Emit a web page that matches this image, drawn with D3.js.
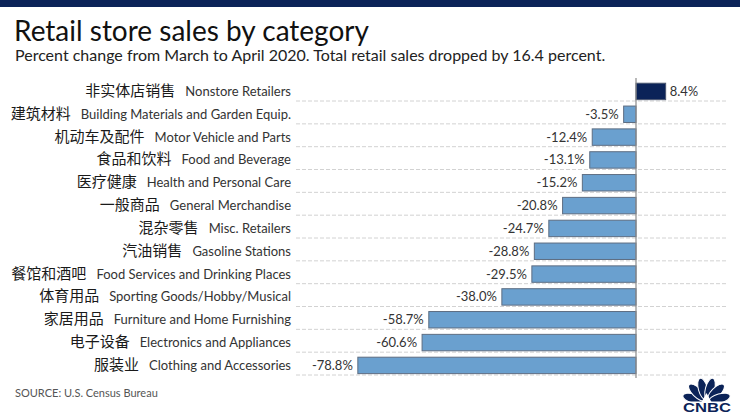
<!DOCTYPE html>
<html>
<head>
<meta charset="utf-8">
<script src="https://cdn.jsdelivr.net/npm/d3@7"></script>
<style>
  html, body { margin: 0; padding: 0; background: #fff; }
  svg { display: block; }
</style>
</head>
<body>
<svg id="chart" width="740" height="416"></svg>
<script>
const categoriesZh = ["非实体店销售","建筑材料","机动车及配件","食品和饮料","医疗健康","一般商品","混杂零售","汽油销售","餐馆和酒吧","体育用品","家居用品","电子设备","服装业"];
const categoriesEn = ["Nonstore Retailers","Building Materials and Garden Equip.","Motor Vehicle and Parts","Food and Beverage","Health and Personal Care","General Merchandise","Misc. Retailers","Gasoline Stations","Food Services and Drinking Places","Sporting Goods/Hobby/Musical","Furniture and Home Furnishing","Electronics and Appliances","Clothing and Accessories"];
const values = [8.4, -3.5, -12.4, -13.1, -15.2, -20.8, -24.7, -28.8, -29.5, -38.0, -58.7, -60.6, -78.8];
const titleText = "Retail store sales by category";
const subtitleText = "Percent change from March to April 2020. Total retail sales dropped by 16.4 percent.";
const sourceText = "SOURCE: U.S. Census Bureau";

const data = categoriesEn.map((en, i) => ({ en, zh: categoriesZh[i], v: values[i] }));

const svg = d3.select("#chart");
const latin = "Lato, 'Open Sans', sans-serif";
const cjk = "'Noto Sans CJK SC', sans-serif";

// top band
svg.append("rect").attr("x", 0).attr("y", 0).attr("width", 740).attr("height", 7).attr("fill", "#0b2358");

// titles
svg.append("text").attr("x", 14).attr("y", 41).text(titleText)
  .attr("font-family", latin).attr("font-size", 28).attr("fill", "#111");
svg.append("text").attr("x", 15).attr("y", 61).text(subtitleText)
  .attr("font-family", latin).attr("font-size", 16).attr("fill", "#222");

// scales
const x = d3.scaleLinear().domain([-80, 10]).range([353.6, 671.3]);
const y = d3.scaleBand().domain(categoriesEn).range([78.2, 375]).padding(0);
const step = y.step();
const fmt = v => d3.format(".1f")(v).replace("\u2212", "-") + "%";

// gridlines (dashed, under each row)
svg.append("g").selectAll("line").data(data).join("line")
  .attr("x1", 296).attr("x2", 727)
  .attr("y1", d => y(d.en) + step).attr("y2", d => y(d.en) + step)
  .attr("stroke", "#d2d2d2").attr("stroke-width", 1).attr("stroke-dasharray", "4,2");

// bars
svg.append("g").selectAll("rect").data(data).join("rect")
  .attr("x", d => x(Math.min(0, d.v)))
  .attr("width", d => Math.abs(x(d.v) - x(0)))
  .attr("y", d => y(d.en) + step * 0.22)
  .attr("height", step * 0.72)
  .attr("fill", d => d.v >= 0 ? "#0b2358" : "#6aa0cf")
  .attr("stroke", d => d.v >= 0 ? "#4a5670" : "#5d6d82")
  .attr("stroke-width", 1);

// zero line
svg.append("line").attr("x1", x(0)).attr("x2", x(0)).attr("y1", 78).attr("y2", 378)
  .attr("stroke", "#8a8a8a").attr("stroke-width", 1.2);

// value labels
svg.append("g").selectAll("text").data(data).join("text")
  .attr("x", d => d.v >= 0 ? x(d.v) + 4 : x(d.v) - 5)
  .attr("y", d => y(d.en) + step * 0.58 + 4.5)
  .attr("text-anchor", d => d.v >= 0 ? "start" : "end")
  .attr("font-family", latin).attr("font-size", 13).attr("fill", "#333")
  .text(d => fmt(d.v));

// category labels
const lab = svg.append("g").selectAll("text").data(data).join("text")
  .attr("x", 291)
  .attr("y", d => y(d.en) + step * 0.58 + 4.5)
  .attr("text-anchor", "end");
lab.append("tspan").attr("font-family", cjk).attr("font-size", 15).attr("fill", "#1a1a1a")
  .text(d => d.zh);
lab.append("tspan").attr("dx", 10).attr("font-family", latin).attr("font-size", 13).attr("fill", "#333")
  .text(d => d.en);

// source
svg.append("text").attr("x", 15).attr("y", 397).text(sourceText)
  .attr("font-family", latin).attr("font-size", 11).attr("fill", "#555");

// CNBC peacock logo
const logo = svg.append("g").attr("transform", "translate(706.5,402)");
const angles = [-75, -45, -15, 15, 45, 75];
logo.selectAll("ellipse").data(angles).join("ellipse")
  .attr("cx", 0).attr("cy", -13.5).attr("rx", 4.6).attr("ry", 11)
  .attr("transform", a => `rotate(${a})`)
  .attr("fill", "#0b2358").attr("stroke", "#fff").attr("stroke-width", 1);
logo.append("path").attr("d", "M-5,0 L0,-9 L5,0 Z").attr("fill", "#fff");
logo.append("rect").attr("x", -24).attr("y", -0.5).attr("width", 48).attr("height", 2).attr("fill", "#fff");
svg.append("text").attr("x", 683).attr("y", 412).text("CNBC")
  .attr("font-family", "'Liberation Sans', Arial, sans-serif").attr("font-weight", "bold")
  .attr("font-size", 12).attr("fill", "#0b2358")
  .attr("textLength", 48).attr("lengthAdjust", "spacingAndGlyphs");
</script>
</body>
</html>
